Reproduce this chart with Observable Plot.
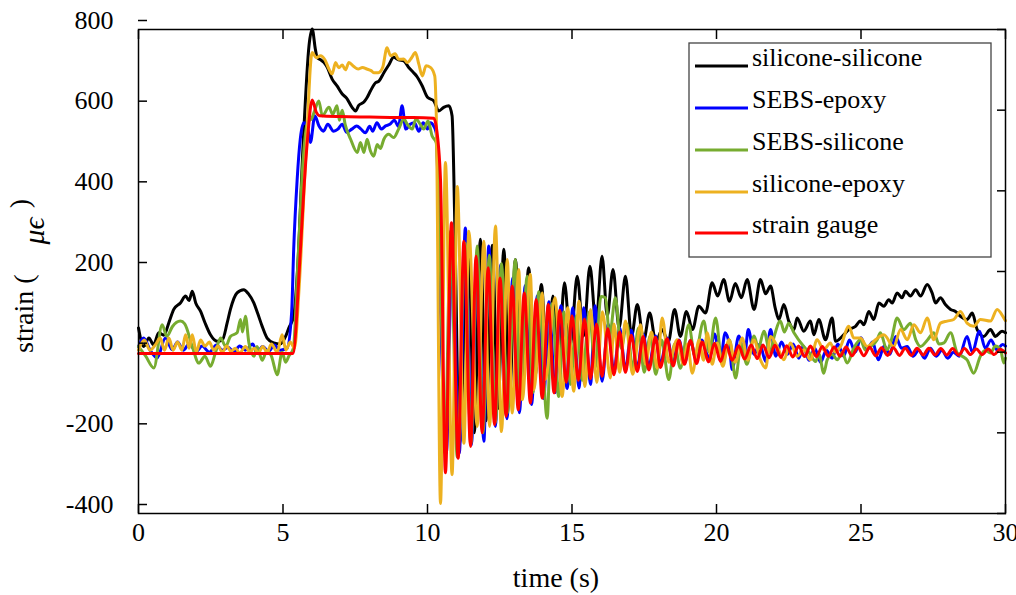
<!DOCTYPE html>
<html><head><meta charset="utf-8">
<script src="https://cdn.jsdelivr.net/npm/d3@7"></script>
<script src="https://cdn.jsdelivr.net/npm/@observablehq/plot@0.6"></script>
<style>
body{margin:0;background:#fff;}
#chart{position:relative;width:1016px;height:595px;}
</style></head><body><div id="chart"></div>
<script>
const seriesNames = ["silicone-silicone","SEBS-epoxy","SEBS-silicone","silicone-epoxy","strain gauge"];
const seriesColors = ["#000000","#0000ff","#77ac30","#edb120","#ff0000"];
const xTicks = [0,5,10,15,20,25,30];
const yTicks = [-400,-200,0,200,400,600,800];

const siliconeSilicone = [[0,60],[0.18,14],[0.36,35],[0.52,18],[0.7,48],[0.88,42],[1.05,73],[1.22,106],[1.45,122],[1.63,139],[1.75,128],[1.86,151],[1.98,122],[2.15,101],[2.3,73],[2.49,43],[2.72,27],[2.9,30],[3.07,73],[3.18,106],[3.41,147],[3.64,155],[3.8,145],[3.99,122],[4.12,97],[4.28,64],[4.45,35],[4.68,23],[4.9,20],[5.09,39],[5.2,60],[5.37,89],[5.5,200],[5.7,520],[5.9,760],[6.01,801],[6.12,751],[6.18,731],[6.3,725],[6.42,718],[6.53,706],[6.7,677],[6.87,660],[7.05,640],[7.2,630],[7.39,607],[7.51,598],[7.62,612],[7.8,620],[7.9,630],[8.03,648],[8.2,668],[8.32,672],[8.49,693],[8.66,712],[8.83,731],[9.0,725],[9.18,722],[9.35,706],[9.52,693],[9.63,684],[9.82,660],[10.0,632],[10.22,623],[10.39,598],[10.56,607],[10.74,611],[10.85,586],[10.95,300],[11.1,-230],[11.41,290],[11.62,-200],[11.83,280],[12.03,-170],[12.24,265],[12.44,-140],[12.64,255],[12.84,-110],[13.04,230],[13.27,-90],[13.5,209],[13.72,-60],[13.94,168],[14.14,-40],[14.34,139],[14.54,-10],[14.74,172],[14.95,20],[15.18,188],[15.4,40],[15.62,213],[15.83,70],[16.04,238],[16.22,90],[16.42,205],[16.63,60],[16.85,188],[17.06,40],[17.26,118],[17.48,30],[17.69,97],[17.9,25],[18.12,56],[18.33,25],[18.55,106],[18.75,39],[18.96,101],[19.17,56],[19.39,114],[19.62,97],[19.85,172],[20.04,139],[20.25,180],[20.45,126],[20.65,170],[20.86,135],[21.06,180],[21.3,106],[21.52,180],[21.7,145],[21.87,164],[22.03,110],[22.16,81],[22.33,118],[22.5,77],[22.68,56],[22.79,85],[23.02,52],[23.25,77],[23.37,43],[23.54,81],[23.77,31],[24.0,85],[24.12,27],[24.35,39],[24.58,56],[24.81,64],[24.98,77],[25.1,68],[25.27,101],[25.44,81],[25.62,122],[25.79,114],[25.96,130],[26.08,122],[26.25,147],[26.42,135],[26.54,151],[26.71,139],[26.89,155],[27.06,139],[27.29,168],[27.46,147],[27.58,122],[27.75,135],[27.92,118],[28.1,106],[28.27,101],[28.44,89],[28.67,81],[28.85,97],[29.02,56],[29.25,39],[29.48,56],[29.65,39],[29.88,52],[30,48]];

const sebsEpoxy = [[0,14],[0.18,35],[0.4,5],[0.65,-14],[0.93,35],[1.17,6],[1.35,25],[1.55,5],[1.75,20],[2.0,2],[2.2,15],[2.45,0],[2.7,18],[2.9,5],[3.1,12],[3.3,0],[3.5,15],[3.7,5],[3.95,20],[4.1,0],[4.3,14],[4.5,2],[4.7,18],[4.9,5],[5.14,10],[5.3,100],[5.37,255],[5.49,428],[5.6,530],[5.72,569],[5.84,560],[5.95,520],[6.1,586],[6.25,560],[6.4,548],[6.55,565],[6.75,548],[6.9,553],[7.05,565],[7.2,545],[7.38,553],[7.55,561],[7.7,553],[7.85,544],[8.0,560],[8.1,548],[8.25,569],[8.4,553],[8.55,561],[8.7,565],[8.85,575],[9.0,560],[9.12,611],[9.25,553],[9.4,565],[9.55,569],[9.7,548],[9.85,569],[10.0,553],[10.1,569],[10.22,560],[10.3,544],[10.45,100],[10.65,-250],[10.85,250],[11.1,-250],[11.31,308],[11.52,-230],[11.72,250],[11.95,-221],[12.12,263],[12.35,-184],[12.53,217],[12.75,-165],[12.95,184],[13.18,-150],[13.38,165],[13.6,-130],[13.8,140],[14.02,-115],[14.2,125],[14.42,-100],[14.62,115],[14.83,-90],[15.03,110],[15.24,-89],[15.41,110],[15.64,-80],[15.8,115],[16.04,-72],[16.25,70],[16.45,-50],[16.65,60],[16.85,-45],[17.05,55],[17.26,-40],[17.46,45],[17.66,-35],[17.89,40],[18.06,-30],[18.29,35],[18.5,-25],[18.7,30],[18.9,-25],[19.1,28],[19.3,-20],[19.5,30],[19.73,-15],[19.93,45],[20.14,-20],[20.3,48],[20.45,15],[20.54,-43],[20.77,40],[20.97,-10],[21.1,56],[21.3,-5],[21.5,20],[21.7,-23],[21.87,56],[22.05,-10],[22.25,25],[22.45,-5],[22.65,20],[22.85,-15],[23.0,15],[23.2,-20],[23.4,10],[23.6,-25],[23.8,5],[24.0,-15],[24.2,20],[24.4,-10],[24.6,30],[24.8,0],[25.0,36],[25.2,5],[25.4,25],[25.6,-19],[25.8,15],[26.0,-5],[26.2,39],[26.4,10],[26.6,14],[26.8,-10],[27.0,5],[27.2,-15],[27.4,10],[27.6,-10],[27.8,5],[28.0,-15],[28.2,0],[28.4,-10],[28.67,39],[28.85,0],[29.1,52],[29.3,10],[29.5,30],[29.7,6],[29.9,19],[30,15]];

const sebsSilicone = [[0,14],[0.25,-10],[0.53,-39],[0.82,68],[0.98,39],[1.17,63],[1.45,77],[1.6,70],[1.86,14],[2.09,-27],[2.3,-10],[2.49,-35],[2.66,-2],[2.84,35],[3.02,14],[3.18,39],[3.41,48],[3.53,81],[3.6,50],[3.7,89],[3.82,23],[4.0,-10],[4.1,14],[4.28,-20],[4.45,5],[4.6,-10],[4.8,-56],[4.97,0],[5.09,-25],[5.2,-10],[5.36,10],[5.5,200],[5.7,480],[5.85,570],[6.0,580],[6.1,600],[6.24,623],[6.36,586],[6.59,607],[6.72,590],[6.87,611],[6.95,575],[7.05,600],[7.15,565],[7.34,528],[7.57,495],[7.68,520],[7.8,495],[7.91,528],[8.02,500],[8.14,486],[8.26,515],[8.37,505],[8.49,528],[8.66,540],[8.83,532],[9.0,553],[9.18,578],[9.3,565],[9.47,553],[9.6,578],[9.75,565],[9.87,553],[10.02,573],[10.16,536],[10.3,520],[10.45,200],[10.6,-250],[10.8,300],[11.03,-260],[11.3,270],[11.5,-230],[11.72,263],[11.92,-200],[12.14,240],[12.35,-175],[12.56,220],[12.77,-150],[13.04,230],[13.2,-120],[13.45,188],[13.65,-100],[13.85,150],[14.14,-164],[14.3,120],[14.54,-110],[14.72,100],[14.95,-80],[15.15,90],[15.35,-70],[15.6,100],[15.8,-40],[16.0,138],[16.16,135],[16.3,40],[16.5,135],[16.7,10],[16.9,70],[17.1,-40],[17.3,60],[17.5,-50],[17.7,40],[17.9,-55],[18.1,30],[18.35,-68],[18.55,20],[18.75,-40],[19.04,68],[19.25,-10],[19.56,77],[19.75,0],[19.97,85],[20.2,-30],[20.45,30],[20.66,-64],[20.85,20],[21.05,-30],[21.3,40],[21.45,10],[21.64,52],[21.85,0],[22.0,40],[22.21,77],[22.35,50],[22.5,72],[22.68,48],[23.02,14],[23.2,0],[23.43,-23],[23.55,-5],[23.71,-52],[23.83,-19],[24.0,-5],[24.18,-19],[24.35,0],[24.52,-27],[24.75,10],[24.98,31],[25.15,5],[25.33,14],[25.56,31],[25.67,48],[25.9,6],[26.05,30],[26.25,85],[26.48,56],[26.71,72],[26.9,30],[27.06,14],[27.3,30],[27.52,48],[27.7,20],[27.87,23],[28.1,48],[28.33,-2],[28.5,-10],[28.67,-19],[28.9,-52],[29.13,-10],[29.3,5],[29.48,-2],[29.65,15],[29.83,6],[29.94,-27],[30,-15]];

const siliconeEpoxy = [[0,5],[0.2,30],[0.4,5],[0.6,20],[0.75,35],[0.9,5],[1.05,35],[1.2,5],[1.35,25],[1.5,5],[1.63,43],[1.75,10],[1.86,43],[2.0,0],[2.15,30],[2.3,15],[2.45,25],[2.6,5],[2.75,15],[2.9,0],[3.05,15],[3.2,2],[3.35,10],[3.5,-2],[3.7,14],[3.85,0],[4.0,10],[4.15,-2],[4.3,14],[4.45,0],[4.6,20],[4.8,0],[4.97,43],[5.1,5],[5.25,25],[5.4,10],[5.55,150],[5.8,500],[6.01,743],[6.15,730],[6.3,735],[6.45,725],[6.59,702],[6.7,690],[6.82,718],[6.93,705],[7.05,712],[7.16,700],[7.28,718],[7.45,708],[7.6,702],[7.75,706],[7.9,702],[8.05,698],[8.14,693],[8.3,693],[8.45,706],[8.6,755],[8.72,735],[8.88,740],[9.0,726],[9.18,727],[9.3,718],[9.45,730],[9.58,743],[9.7,714],[9.82,685],[9.95,710],[10.1,706],[10.25,685],[10.3,600],[10.45,-375],[10.62,470],[10.85,-304],[11.03,411],[11.26,-226],[11.43,300],[11.72,-184],[11.95,275],[12.15,-184],[12.35,313],[12.56,-197],[12.76,230],[12.93,-151],[13.16,205],[13.28,-118],[13.56,193],[13.68,-93],[13.97,147],[14.08,-68],[14.41,135],[14.66,-110],[14.85,110],[15.06,-97],[15.24,126],[15.45,-85],[15.64,106],[15.86,-75],[16.05,100],[16.33,-64],[16.45,70],[16.65,-50],[16.85,77],[17.1,-55],[17.37,68],[17.55,-30],[17.75,50],[17.95,-40],[18.12,85],[18.35,-25],[18.64,31],[18.85,-30],[19.0,20],[19.16,-52],[19.4,30],[19.55,-20],[19.68,48],[19.85,-30],[20.02,23],[20.22,-35],[20.43,31],[20.65,-25],[20.89,35],[21.08,-20],[21.29,30],[21.52,-19],[21.7,-39],[21.87,39],[22.1,14],[22.33,-19],[22.56,23],[22.79,-10],[23.02,6],[23.25,-19],[23.48,31],[23.71,6],[23.94,23],[24.1,0],[24.29,14],[24.58,64],[24.75,35],[24.98,35],[25.21,14],[25.5,31],[25.79,43],[26.13,14],[26.37,56],[26.6,31],[26.83,68],[27.06,48],[27.29,85],[27.52,31],[27.75,72],[27.98,77],[28.21,81],[28.44,101],[28.67,72],[28.9,64],[29.13,81],[29.48,77],[29.71,106],[29.94,85],[30,78]];

const strainGauge = [[0,-3],[5.34,-3],[5.6,250],[5.72,400],[5.85,530],[6.01,625],[6.15,595],[6.27,586],[7,584],[8,583],[9,582],[9.5,582],[10.22,580],[10.3,560],[10.45,428],[10.62,-299],[10.83,321],[11.06,-263],[11.26,275],[11.49,-234],[11.68,238],[11.89,-200],[12.10,209],[12.32,-180],[12.51,184],[12.72,-159],[12.93,164],[13.14,-143],[13.35,147],[13.56,-126],[13.76,130],[13.97,-114],[14.18,118],[14.38,-101],[14.58,104],[14.8,-75],[15.0,90],[15.22,-70],[15.43,82],[15.64,-66],[15.85,70],[16.04,-60],[16.24,58],[16.45,-56],[16.65,50],[16.85,-50],[17.05,42],[17.26,-48],[17.46,39],[17.66,-44],[17.89,37],[18.06,-38],[18.29,33],[18.5,-34],[18.70,29],[18.89,-30],[19.10,29],[19.31,-28],[19.50,25],[19.73,-24],[19.93,22],[20.14,-23],[20.34,18],[20.54,-20],[20.77,16],[20.97,-17],[21.2,18],[21.41,-16],[21.61,18],[21.82,-14],[22.02,17],[22.23,-13],[22.43,16],[22.64,-12],[22.84,15],[23.05,-11],[23.25,15],[23.46,-11],[23.66,14],[23.87,-10],[24.07,13],[24.28,-10],[24.48,13],[24.69,-9],[24.89,12],[25.1,-9],[25.30,12],[25.51,-9],[25.71,11],[25.92,-8],[26.12,11],[26.33,-8],[26.53,10],[26.74,-8],[26.94,10],[27.15,-7],[27.35,10],[27.56,-7],[27.76,9],[27.97,-7],[28.17,9],[28.38,-7],[28.58,9],[28.79,-6],[28.99,8],[29.2,-6],[29.40,8],[29.61,-6],[29.81,7],[30,-2]];

const seriesData = [siliconeSilicone, sebsEpoxy, sebsSilicone, siliconeEpoxy, strainGauge];
const rows = [];
seriesData.forEach((arr, k) => arr.forEach(([t, v]) => rows.push({t, v, s: seriesNames[k]})));

const font = "'Liberation Serif', 'Times New Roman', serif";
const plot = Plot.plot({
  width: 1016, height: 595,
  marginLeft: 138, marginRight: 11, marginTop: 29, marginBottom: 82,
  style: {fontFamily: font, fontSize: "26px", background: "#fff", color: "#000"},
  x: {domain: [0, 30]},
  y: {domain: [-400, 800]},
  color: {domain: seriesNames, range: seriesColors},
  marks: [
    Plot.line(rows, {x: "t", y: "v", z: "s", stroke: "s", strokeWidth: 3, curve: "monotone-x", strokeLinejoin: "round"}),
    Plot.frame({stroke: "#000", strokeWidth: 1.5}),
    Plot.axisX({ticks: xTicks, tickSize: -9, tickPadding: 18, label: null, fontSize: 26, strokeWidth: 1.5, tickFormat: d => String(d)}),
    Plot.axisX({anchor: "top", ticks: xTicks, tickSize: -9, tickFormat: () => "", label: null, strokeWidth: 1.5}),
    Plot.axisY({ticks: yTicks, tickSize: -9, tickPadding: 34, label: null, dy: -9, fontSize: 26, strokeWidth: 1.5, tickFormat: d => String(d)}),
    Plot.axisY({anchor: "right", ticks: yTicks, tickSize: -9, tickFormat: () => "", label: null, strokeWidth: 1.5})
  ]
});
document.getElementById("chart").appendChild(plot);

const svg = d3.select(plot);
// x-axis label
svg.append("text").attr("x", 556).attr("y", 587).attr("text-anchor", "middle")
  .attr("font-family", font).attr("font-size", 28).attr("fill", "#000").text("time (s)");
// y-axis label
const yl = svg.append("text").attr("transform", "translate(33,353) rotate(-90)")
  .attr("text-anchor", "start")
  .attr("font-family", font).attr("font-size", 28).attr("fill", "#000");
yl.append("tspan").text("strain (");
yl.append("tspan").attr("dx", 30).attr("dy", 11).attr("font-style", "italic").attr("font-size", 30).text("\u03BC\u03F5");
yl.append("tspan").attr("dx", 9).attr("dy", -15).text(")");

// legend
const lg = svg.append("g").attr("text-anchor", "start");
lg.append("rect").attr("x", 689).attr("y", 43).attr("width", 302).attr("height", 214)
  .attr("fill", "#fff").attr("stroke", "#444").attr("stroke-width", 1.3);
const legendY = [66, 108, 150, 192, 233];
seriesNames.forEach((n, i) => {
  lg.append("line").attr("x1", 695).attr("x2", 748).attr("y1", legendY[i]).attr("y2", legendY[i])
    .attr("stroke", seriesColors[i]).attr("stroke-width", 3);
  lg.append("text").attr("x", 752).attr("y", legendY[i]).attr("text-anchor", "start").attr("font-family", font)
    .attr("font-size", 26).attr("fill", "#000").text(n);
});
</script></body></html>
